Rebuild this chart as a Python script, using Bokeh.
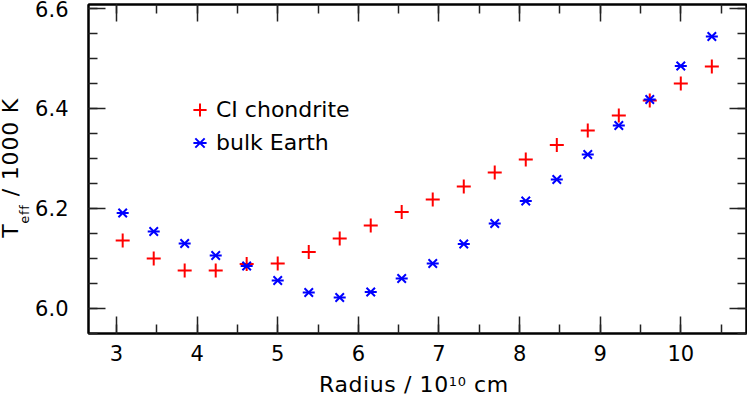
from bokeh.plotting import figure
from bokeh.models import (LinearAxis, SingleIntervalTicker, PrintfTickFormatter, Range1d,
                          Legend, LegendItem, ColumnDataSource, Div)
from bokeh.layouts import row, column
from bokeh.embed import file_html
from bokeh.resources import INLINE

# ---- data ----
radius = [3.077, 3.462, 3.846, 4.231, 4.615, 5.000, 5.385, 5.769, 6.154, 6.538,
          6.923, 7.308, 7.692, 8.077, 8.462, 8.846, 9.231, 9.615, 10.000, 10.385]
teff_ci = [6.135, 6.099, 6.075, 6.075, 6.088, 6.089, 6.112, 6.139, 6.165, 6.192,
           6.217, 6.243, 6.271, 6.297, 6.326, 6.355, 6.385, 6.415, 6.449, 6.483]
teff_earth = [6.190, 6.153, 6.129, 6.105, 6.084, 6.055, 6.031, 6.021, 6.032, 6.059,
              6.089, 6.128, 6.169, 6.214, 6.257, 6.307, 6.365, 6.417, 6.484, 6.543]
series_names = ["CI chondrite", "bulk Earth"]
x_tick_step = 1
y_tick_step = 0.2

FONT = "DejaVu Sans"

p = figure(width=717, height=370, output_backend="svg", toolbar_location=None,
           x_range=Range1d(2.653, 10.815), y_range=Range1d(5.949, 6.607),
           x_axis_type=None, y_axis_type=None,
           min_border_left=58, min_border_right=1, min_border_top=4, min_border_bottom=37)
p.outline_line_color = "black"
p.outline_line_width = 2
p.background_fill_color = "white"
p.border_fill_color = "white"


def make_axis(kind, side, show_labels):
    if kind == "x":
        ticker = SingleIntervalTicker(interval=x_tick_step, num_minor_ticks=2)
        fmt = PrintfTickFormatter(format="%d")
    else:
        ticker = SingleIntervalTicker(interval=y_tick_step, num_minor_ticks=4)
        fmt = PrintfTickFormatter(format="%.1f")
    ax = LinearAxis(ticker=ticker, formatter=fmt)
    ax.axis_line_color = "black"
    ax.axis_line_width = 2
    ax.major_tick_in = 17
    ax.major_tick_out = 0
    ax.minor_tick_in = 9
    ax.minor_tick_out = 0
    ax.major_tick_line_color = "#222222"
    ax.minor_tick_line_color = "#222222"
    ax.major_tick_line_width = 1.5
    ax.minor_tick_line_width = 1.5
    if show_labels:
        ax.major_label_text_font = FONT
        ax.major_label_text_font_size = "21px"
        ax.major_label_text_color = "black"
        ax.major_label_standoff = 11 if kind == "x" else 20
    else:
        ax.major_label_text_font_size = "0px"
        ax.major_label_text_color = None
        ax.major_label_standoff = 0
    p.add_layout(ax, side)
    return ax


make_axis("x", "below", True)
make_axis("y", "left", True)
make_axis("x", "above", False)
make_axis("y", "right", False)

src = ColumnDataSource(dict(r=radius, ci=teff_ci, earth=teff_earth))

r_ci = p.scatter("r", "ci", source=src, marker="cross", size=14,
                 line_color="#ff0000", line_width=2)
e_dash = p.scatter("r", "earth", source=src, marker="dash", size=12,
                   line_color="#0000ff", line_width=2)
e_x = p.scatter("r", "earth", source=src, marker="x", size=12,
                line_color="#0000ff", line_width=2)

legend = Legend(items=[LegendItem(label=series_names[0], renderers=[r_ci]),
                       LegendItem(label=series_names[1], renderers=[e_dash, e_x])],
                location=(95, 174), orientation="vertical",
                glyph_width=33, glyph_height=33, label_height=33, spacing=0,
                padding=0, margin=0, label_standoff=0,
                border_line_color=None, background_fill_alpha=0)
legend.label_text_font = FONT
legend.label_text_font_size = "22px"
legend.label_text_color = "black"
p.add_layout(legend)

# ---- axis titles as real HTML text (superscript / subscript) ----
xtitle_html = (
    '<div style="position:relative; left:289px; top:4px; white-space:nowrap; '
    "font-family:'DejaVu Sans'; font-size:22px; line-height:22px; "
    'letter-spacing:0.6px; color:#000;">Radius / 10'
    '<span style="font-size:13px; position:relative; top:-6px;">10</span> cm</div>'
)
ytitle_html = (
    '<div style="position:relative; left:0px; top:0px; width:30px; height:402px;">'
    '<div style="position:absolute; left:2px; bottom:164px; writing-mode:vertical-rl; '
    "transform:rotate(180deg); white-space:nowrap; font-family:'DejaVu Sans'; "
    'font-size:22px; line-height:18px; letter-spacing:0.8px; color:#000;">T'
    '<span style="font-size:13px; line-height:10px; position:relative; left:-14px;">eff</span>'
    ' / 1000 K</div></div>'
)

xtitle = Div(text=xtitle_html, width=717, height=32, margin=0)
ytitle = Div(text=ytitle_html, width=30, height=402, margin=0)

layout = row(ytitle, column(p, xtitle, spacing=0), spacing=0)

open("out.html", "w").write(file_html(layout, INLINE))
